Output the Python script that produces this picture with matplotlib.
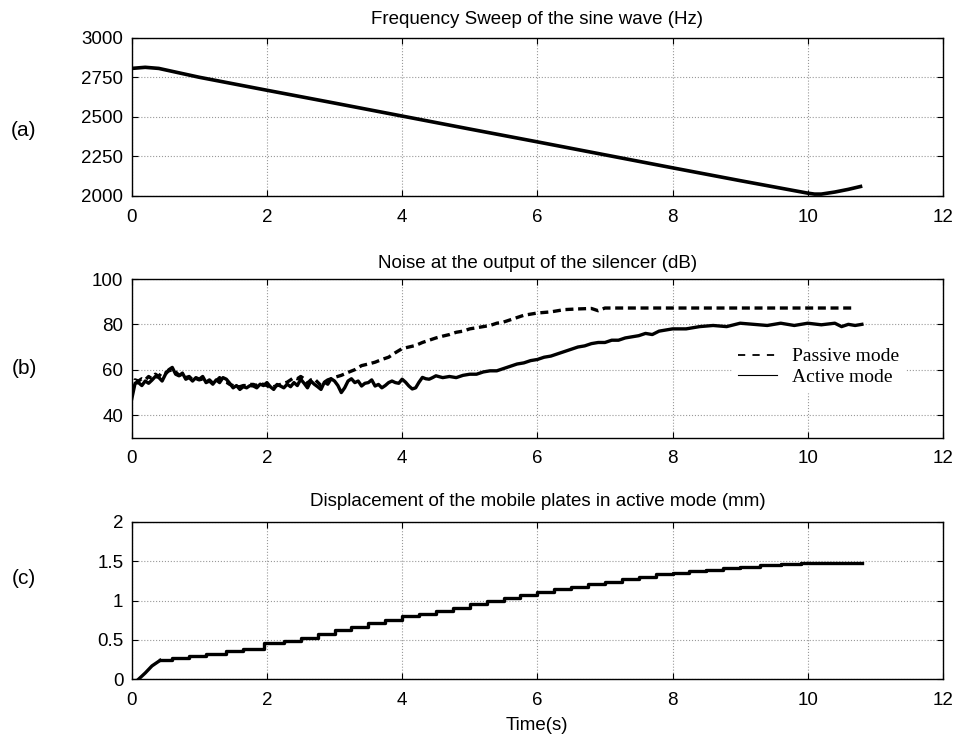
import matplotlib
matplotlib.use("Agg")
import matplotlib.pyplot as plt
from matplotlib.lines import Line2D

plt.rcParams['font.family'] = ['Liberation Sans', 'DejaVu Sans']

# (a) frequency sweep
freq_t = [0, 0.2, 0.4, 1, 2, 3, 4, 5, 6, 7, 8, 9, 10, 10.1, 10.2, 10.4, 10.6, 10.78]
freq_hz = [2806, 2813, 2806, 2750, 2668, 2587, 2505, 2423, 2342, 2260, 2178, 2097,
           2018, 2012, 2012, 2025, 2042, 2060]

# (b) noise, active mode
act_t = [0, 0.05, 0.1, 0.15, 0.2, 0.25, 0.3, 0.35, 0.4, 0.45, 0.5, 0.55, 0.6, 0.65, 0.7,
         0.75, 0.8, 0.85, 0.9, 0.95, 1.0, 1.05, 1.1, 1.15, 1.2, 1.25, 1.3, 1.35, 1.4,
         1.45, 1.5, 1.55, 1.6, 1.65, 1.7, 1.75, 1.8, 1.85, 1.9, 1.95, 2.0, 2.05, 2.1,
         2.15, 2.2, 2.25, 2.3, 2.35, 2.4, 2.45, 2.5, 2.55, 2.6, 2.65, 2.7, 2.75, 2.8,
         2.85, 2.9, 2.95, 3.0, 3.05, 3.1, 3.15, 3.2, 3.25, 3.3, 3.35, 3.4, 3.45, 3.5,
         3.55, 3.6, 3.65, 3.7, 3.75, 3.8, 3.85, 3.9, 3.95, 4.0, 4.05, 4.1, 4.15, 4.2,
         4.25, 4.3, 4.35, 4.4, 4.45, 4.5, 4.6, 4.7, 4.8, 4.9, 5.0, 5.1, 5.2, 5.3, 5.4,
         5.5, 5.6, 5.7, 5.8, 5.9, 6.0, 6.1, 6.2, 6.3, 6.4, 6.5, 6.6, 6.7, 6.8, 6.9,
         7.0, 7.1, 7.2, 7.3, 7.4, 7.5, 7.6, 7.7, 7.8, 7.9, 8.0, 8.2, 8.4, 8.6, 8.8,
         9.0, 9.2, 9.4, 9.6, 9.8, 10.0, 10.2, 10.4, 10.5, 10.6, 10.7, 10.8]
act_db = [47, 54, 54.3, 53, 55, 54, 55.4, 57, 56.6, 55, 58, 60, 61, 58, 57.3,
          58.5, 55.8, 56.5, 55, 56.5, 55.8, 57, 54.3, 55, 53.6, 55.5, 54.3, 56.5, 55.8,
          54, 52, 53, 51.3, 52.5, 52, 53, 52.8, 52, 53.6, 53, 54.3, 52.5, 51.3,
          53.5, 52.8, 52, 53.6, 52.5, 54.3, 53, 55.8, 54, 52, 55, 53.6, 52.5, 51.3,
          54.5, 53.6, 56, 55, 53, 49.9, 52, 55, 56, 54.3, 55, 52.8, 54, 54.3,
          55.5, 52.8, 53.5, 52, 53, 54.3, 55, 54.3, 54, 55.8, 54.5, 52.8, 51.5, 52,
          54.5, 56.6, 56, 55.8, 56.5, 57.3, 56.5, 57, 56.5, 57.5, 58, 58, 59, 59.5, 59.5,
          60.5, 61.5, 62.5, 63, 64, 64.5, 65.5, 66, 67, 68, 69, 70, 70.5, 71.5, 72,
          72, 73, 73, 74, 74.5, 75, 76, 75.5, 77, 77.5, 78, 78, 79, 79.5, 79,
          80.5, 80, 79.5, 80.5, 79.5, 80.5, 79.8, 80.5, 79, 80, 79.5, 80]

# (b) noise, passive mode
pas_t = [0, 0.05, 0.1, 0.15, 0.2, 0.25, 0.3, 0.35, 0.4, 0.45, 0.5, 0.55, 0.6, 0.65, 0.7,
         0.75, 0.8, 0.85, 0.9, 0.95, 1.0, 1.05, 1.1, 1.15, 1.2, 1.25, 1.3, 1.35, 1.4,
         1.45, 1.5, 1.55, 1.6, 1.65, 1.7, 1.75, 1.8, 1.85, 1.9, 1.95, 2.0, 2.05, 2.1,
         2.15, 2.2, 2.25, 2.3, 2.35, 2.4, 2.45, 2.5, 2.55, 2.6, 2.65, 2.7, 2.75, 2.8,
         2.85, 2.9, 2.95, 3.0, 3.1, 3.2, 3.3, 3.4, 3.5, 3.6, 3.7, 3.8, 3.9, 4.0, 4.1,
         4.2, 4.3, 4.4, 4.5, 4.6, 4.7, 4.8, 4.9, 5.0, 5.1, 5.2, 5.3, 5.4, 5.5, 5.6,
         5.7, 5.8, 5.9, 6.0, 6.2, 6.4, 6.6, 6.8, 6.9, 7.0, 7.5, 8.0, 9.0, 10.0, 10.65]
pas_db = [50, 55.5, 55, 56, 55.5, 57, 56, 58, 57, 59, 58.5, 59.5, 60, 59, 57.5,
          58, 56.5, 57, 55.5, 56, 55.5, 56, 54.5, 55.5, 54, 55, 56.5, 55, 54.5,
          53.5, 53, 52.5, 52.5, 53, 53, 53.5, 53.5, 53, 54, 53.5, 53, 52, 52.5,
          53, 53.5, 54, 54.5, 55.5, 56.5, 56, 57, 56, 54, 55.5, 56, 54.5, 53,
          54.5, 55.5, 56, 56.6, 57.5, 58.8, 60, 61.8, 62.5, 63.3, 64.5, 65.5, 67.5, 69.3, 70,
          70.7, 72, 73, 74, 74.8, 75.5, 76.5, 77, 78, 78.5, 79, 79.5, 80.5, 81, 82,
          83, 84, 84.5, 85, 85.5, 86.5, 86.8, 87, 86, 87.2, 87.2, 87.2, 87.2, 87.2, 87.2]

# (c) plate displacement: start-up ramp, then stepped rise
ramp_t = [0.1, 0.2, 0.3, 0.42]
ramp_mm = [0.0, 0.08, 0.17, 0.24]
disp_t = [0.42, 0.6, 0.85, 1.1, 1.4, 1.65, 1.95, 2.25,
          2.5, 2.75, 3.0, 3.25, 3.5, 3.75, 4.0, 4.25, 4.5, 4.75, 5.0, 5.25, 5.5, 5.75,
          6.0, 6.25, 6.5, 6.75, 7.0, 7.25, 7.5, 7.75, 8.0, 8.25, 8.5, 8.75, 9.0, 9.3,
          9.6, 9.9, 10.8]
disp_mm = [0.24, 0.27, 0.29, 0.32, 0.36, 0.39, 0.46, 0.49,
           0.53, 0.57, 0.62, 0.66, 0.71, 0.75, 0.8, 0.83, 0.87, 0.91, 0.95, 0.99, 1.03, 1.07,
           1.11, 1.14, 1.17, 1.21, 1.24, 1.27, 1.3, 1.33, 1.35, 1.37, 1.39, 1.41, 1.43, 1.45,
           1.465, 1.48, 1.48]

xticks = [0, 2, 4, 6, 8, 10, 12]
FS = 13.5
LW = 2.4

fig = plt.figure(figsize=(9.58, 7.40), dpi=100)
W, H = 958.0, 740.0
left, right = 131.7, 943.0
boxes = [(37.7, 196.0), (279.0, 437.7), (521.7, 679.3)]
axes = []
for top, bot in boxes:
    ax = fig.add_axes([left / W, 1 - bot / H, (right - left) / W, (bot - top) / H])
    ax.set_xlim(0, 12)
    ax.set_xticks(xticks)
    ax.grid(True, color='#999999', linestyle=':', linewidth=0.8)
    ax.tick_params(direction='in', top=True, right=True, length=4, width=0.8,
                   labelsize=FS)
    ax.tick_params(axis='x', pad=9)
    ax.tick_params(axis='y', pad=6)
    for s in ax.spines.values():
        s.set_linewidth(1.0)
    axes.append(ax)

ax1, ax2, ax3 = axes

ax1.plot(freq_t, freq_hz, color='black', linewidth=LW + 0.2)
ax1.set_ylim(2000, 3000)
ax1.set_yticks([2000, 2250, 2500, 2750, 3000])
ax1.set_title('Frequency Sweep of the sine wave (Hz)', fontsize=FS, pad=10)

ax2.plot(pas_t, pas_db, color='black', linewidth=LW, dashes=(2.4, 1.4))
ax2.plot(act_t, act_db, color='black', linewidth=LW)
ax2.set_ylim(30, 100)
ax2.set_yticks([40, 60, 80, 100])
ax2.set_title('Noise at the output of the silencer (dB)', fontsize=FS, pad=8)
handles = [Line2D([], [], color='black', linewidth=1.3, linestyle='--', dashes=(4, 4)),
           Line2D([], [], color='black', linewidth=0.8)]
ax2.legend(handles, ['Passive mode', 'Active mode'], loc='upper left',
           bbox_to_anchor=(0.728, 0.665), frameon=True, fancybox=False,
           edgecolor='white', framealpha=1.0, handlelength=2.0,
           borderpad=0.3, labelspacing=0.15, handletextpad=0.8,
           prop={'family': 'Liberation Serif', 'size': 14})

ax3.plot(ramp_t, ramp_mm, color='black', linewidth=LW)
ax3.plot(disp_t, disp_mm, color='black', linewidth=LW, drawstyle='steps-post')
ax3.set_ylim(0, 2)
ax3.set_yticks([0, 0.5, 1, 1.5, 2])
ax3.set_yticklabels(['0', '0.5', '1', '1.5', '2'])
ax3.set_title('Displacement of the mobile plates in active mode (mm)', fontsize=FS, pad=11)
ax3.set_xlabel('Time(s)', fontsize=FS, labelpad=6)

for lab, yy in [('(a)', 130), ('(b)', 368), ('(c)', 578)]:
    fig.text(24 / W, 1 - yy / H, lab, fontsize=15, ha='center', va='center')

fig.savefig('out.png', dpi=100)
